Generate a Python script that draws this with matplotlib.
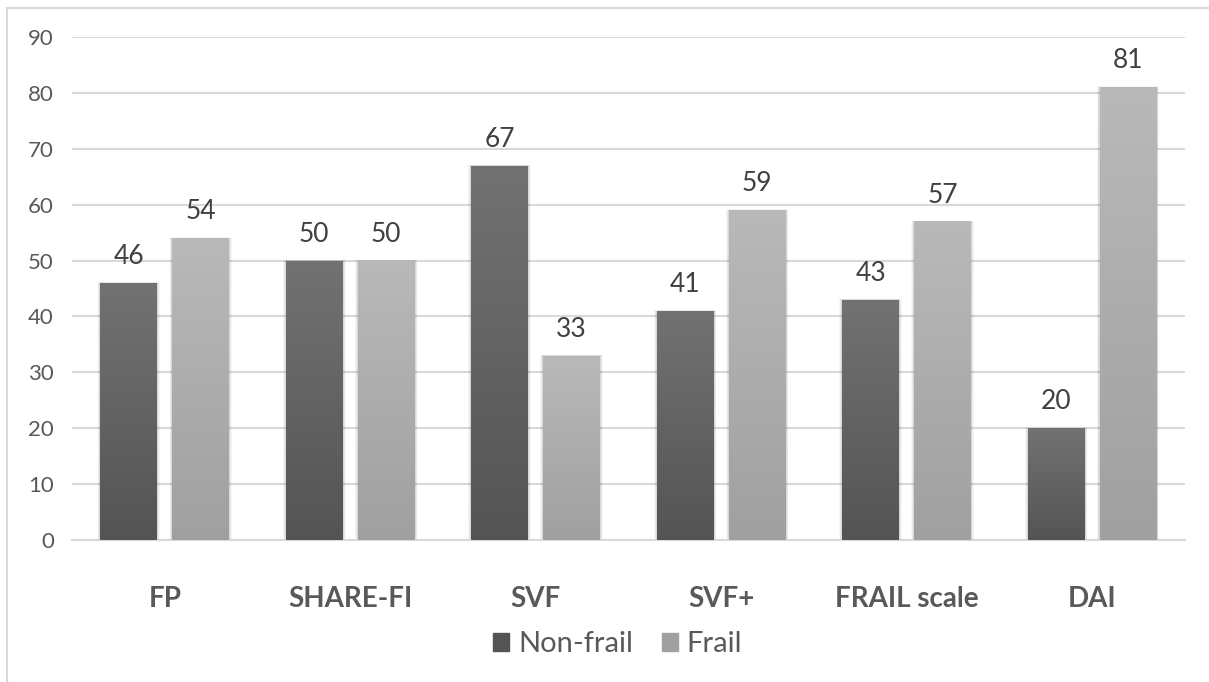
import matplotlib.pyplot as plt
import numpy as np
from matplotlib.colors import LinearSegmentedColormap
from matplotlib.patches import Rectangle
from matplotlib.lines import Line2D

plt.rcParams['font.family'] = ['Lato', 'DejaVu Sans']

categories = ['FP', 'SHARE-FI', 'SVF', 'SVF+', 'FRAIL scale', 'DAI']
non_frail = [46, 50, 67, 41, 43, 20]
frail = [54, 50, 33, 59, 57, 81]
series_names = ['Non-frail', 'Frail']

# top -> bottom colours of the gradient fill
grad_dark = ['#727272', '#545454']
grad_light = ['#b9b9b9', '#a0a0a0']

fig = plt.figure(figsize=[12.09, 6.82], dpi=100)
ax = fig.add_axes([0.0596, 0.2082, 0.9204, 0.7375])

x = np.arange(len(categories))
w = 0.307
off = 0.194


def gradient_bars(bars, cols):
    cmap = LinearSegmentedColormap.from_list('g', [cols[1], cols[0]])
    grad = np.linspace(0, 1, 256).reshape(-1, 1)
    for b in bars:
        bx, by = b.get_x(), b.get_y()
        bw, bh = b.get_width(), b.get_height()
        # soft shadow around the bar
        for k, a in zip([0.05, 0.035, 0.02], [0.035, 0.05, 0.07]):
            ax.add_patch(Rectangle((bx - k * 0.3, by), bw + k * 0.6, bh + k * 3,
                                   color='black', alpha=a, lw=0, zorder=2))
        im = ax.imshow(grad, extent=[bx, bx + bw, by, by + bh], origin='lower',
                       cmap=cmap, aspect='auto', zorder=3, interpolation='bicubic')
        im.set_clip_path(b)


b1 = ax.bar(x - off, non_frail, w, color=grad_dark[1], zorder=3)
b2 = ax.bar(x + off, frail, w, color=grad_light[1], zorder=3)
gradient_bars(b1, grad_dark)
gradient_bars(b2, grad_light)

ax.bar_label(b1, padding=10, fontsize=19, color='#404040')
ax.bar_label(b2, padding=10, fontsize=19, color='#404040')

ax.set_xlim(-0.5, len(categories) - 0.5)
ax.set_ylim(0, 90)
ax.set_yticks(range(0, 91, 10))
ax.set_xticks(x)
ax.set_xticklabels(categories, fontsize=20, fontweight='bold', color='#595959')
ax.tick_params(axis='x', length=0, pad=33)
ax.tick_params(axis='y', length=0, pad=13, labelsize=16, labelcolor='#595959')

ax.grid(axis='y', color='#d9d9d9', lw=1.5, zorder=0)
ax.set_axisbelow(True)
for s in ['top', 'right', 'left']:
    ax.spines[s].set_visible(False)
ax.spines['bottom'].set_color('#d9d9d9')
ax.spines['bottom'].set_linewidth(1.5)

handles = [Rectangle((0, 0), 1, 1, color=grad_dark[1]),
           Rectangle((0, 0), 1, 1, color=grad_light[1])]
fig.legend(handles, series_names, loc='center', bbox_to_anchor=(0.511, 0.055),
           ncol=2, frameon=False, fontsize=21, labelcolor='#595959',
           handlelength=0.55, handleheight=0.55, handletextpad=0.3, columnspacing=1.0)

# chart frame
fig.add_artist(Line2D([0.006, 0.006], [0, 0.988], color='#d9d9d9', lw=1.5))
fig.add_artist(Line2D([0.006, 1], [0.988, 0.988], color='#d9d9d9', lw=1.5))

fig.savefig('out.png', dpi=100)
